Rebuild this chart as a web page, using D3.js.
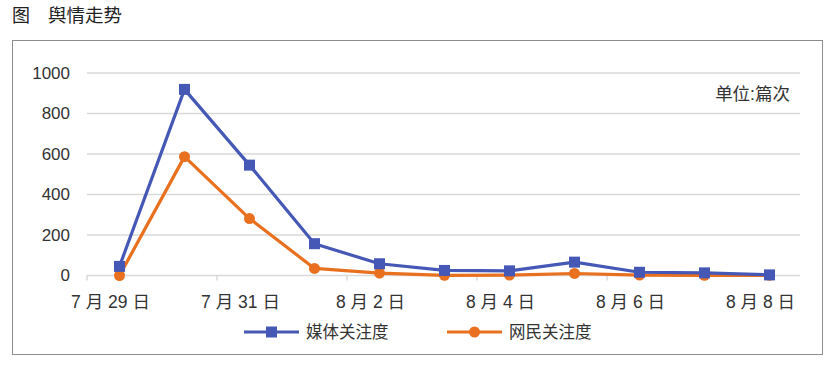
<!DOCTYPE html>
<html>
<head>
<meta charset="utf-8">
<script src="https://cdn.jsdelivr.net/npm/d3@7/dist/d3.min.js"></script>
<style>
  body { margin: 0; background: #fff; }
  svg text { font-family: "Liberation Sans", Arial, "Noto Sans CJK SC", sans-serif; fill: #333; }
</style>
</head>
<body>
<svg id="chart" width="838" height="382"></svg>
<script>
const categories = ["7 月 29 日", "7 月 30 日", "7 月 31 日", "8 月 1 日", "8 月 2 日", "8 月 3 日", "8 月 4 日", "8 月 5 日", "8 月 6 日", "8 月 7 日", "8 月 8 日"];
const tickLabels = ["7 月 29 日", "7 月 31 日", "8 月 2 日", "8 月 4 日", "8 月 6 日", "8 月 8 日"];
const mediaValues = [45, 919, 545, 157, 58, 25, 23, 66, 16, 13, 3];
const publicValues = [0, 587, 281, 35, 12, 1, 2, 10, 2, 1, 1];
const yTicks = [0, 200, 400, 600, 800, 1000];
const seriesNames = ["媒体关注度", "网民关注度"];
const colors = ["#4658b6", "#e8701e"];

(function () {
const svg = d3.select("#chart");

// title
svg.append("text").attr("x", 12).attr("y", 22).style("font-size", "18px")
  .style("font-family", "'Noto Sans CJK SC', sans-serif").style("fill", "#222")
  .text("图");
svg.append("text").attr("x", 48).attr("y", 22).style("font-size", "18.5px")
  .style("font-family", "'Noto Sans CJK SC', sans-serif").style("fill", "#222")
  .text("舆情走势");

// frame
svg.append("rect").attr("x", 12.5).attr("y", 40.5).attr("width", 810).attr("height", 314)
  .attr("fill", "none").attr("stroke", "#8c8c8c").attr("stroke-width", 1);

const pLeft = 87, pRight = 802, pTop = 73, pBottom = 275.5;
const x = d3.scaleBand().domain(categories).range([pLeft, pRight]);
const y = d3.scaleLinear().domain([0, 1000]).range([pBottom, pTop]);

// gridlines
svg.append("g").selectAll("line").data(yTicks).join("line")
  .attr("x1", pLeft).attr("x2", pRight - 2)
  .attr("y1", d => y(d)).attr("y2", d => y(d))
  .attr("stroke", "#d9d9d9").attr("stroke-width", 1.5);

// y labels
const yAxis = d3.axisLeft(y).tickValues(yTicks).tickSize(0).tickPadding(0).tickFormat(d3.format("d"));
const gy = svg.append("g").attr("transform", `translate(70,0)`).call(yAxis);
gy.select(".domain").remove();
gy.selectAll("text").style("font-size", "17px").style("fill", "#333")
  .style("font-family", "'Liberation Sans', Arial, sans-serif");

// x ticks at band boundaries every 2 categories
const tickCats = categories.filter((d, i) => i % 2 === 0 && i < categories.length - 1);
svg.append("g").selectAll("line").data(tickCats).join("line")
  .attr("x1", d => x(d)).attr("x2", d => x(d))
  .attr("y1", pBottom).attr("y2", pBottom + 5)
  .attr("stroke", "#d9d9d9").attr("stroke-width", 1.5);

// x labels
svg.append("g").selectAll("text").data(tickLabels).join("text")
  .attr("x", d => x(d) + x.bandwidth() / 2 - 9)
  .attr("y", 308)
  .attr("text-anchor", "middle")
  .style("font-size", "17.5px")
  .text(d => d);

// unit
svg.append("text").attr("x", 790).attr("y", 100).attr("text-anchor", "end")
  .style("font-size", "17.5px").text("单位:篇次");

const line = d3.line().x((d, i) => x(categories[i]) + x.bandwidth() / 2).y(d => y(d));

// orange series
svg.append("path").datum(publicValues).attr("d", line)
  .attr("fill", "none").attr("stroke", colors[1]).attr("stroke-width", 3.2).attr("stroke-linejoin", "round");
svg.append("g").selectAll("circle").data(publicValues).join("circle")
  .attr("cx", (d, i) => x(categories[i]) + x.bandwidth() / 2).attr("cy", d => y(d))
  .attr("r", 5.5).attr("fill", colors[1]);

// blue series
svg.append("path").datum(mediaValues).attr("d", line)
  .attr("fill", "none").attr("stroke", colors[0]).attr("stroke-width", 3.2).attr("stroke-linejoin", "round");
svg.append("g").selectAll("rect").data(mediaValues).join("rect")
  .attr("x", (d, i) => x(categories[i]) + x.bandwidth() / 2 - 5.5).attr("y", d => y(d) - 5.5)
  .attr("width", 11).attr("height", 11).attr("fill", colors[0]);

// legend
const legendItems = [
  { name: seriesNames[0], color: colors[0], shape: "rect", x0: 244 },
  { name: seriesNames[1], color: colors[1], shape: "circle", x0: 447 }
];
const ly = 332;
legendItems.forEach(it => {
  const g = svg.append("g");
  g.append("line").attr("x1", it.x0).attr("x2", it.x0 + 55).attr("y1", ly).attr("y2", ly)
    .attr("stroke", it.color).attr("stroke-width", 3.2);
  if (it.shape === "rect") {
    g.append("rect").attr("x", it.x0 + 27.5 - 5.5).attr("y", ly - 5.5).attr("width", 11).attr("height", 11).attr("fill", it.color);
  } else {
    g.append("circle").attr("cx", it.x0 + 27.5).attr("cy", ly).attr("r", 5.5).attr("fill", it.color);
  }
  g.append("text").attr("x", it.x0 + 62).attr("y", ly + 6).style("font-size", "16.5px")
    .style("font-family", "'Noto Sans CJK SC', sans-serif").text(it.name);
});
})();
</script>
</body>
</html>
